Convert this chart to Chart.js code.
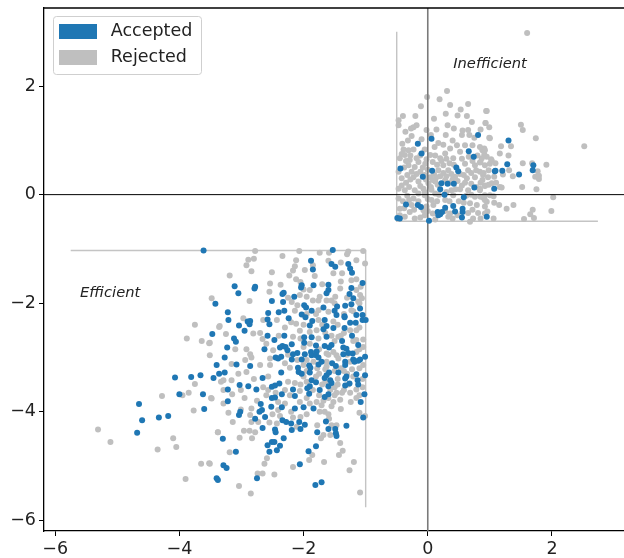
<!DOCTYPE html>
<html><head><meta charset="utf-8">
<style>html,body{margin:0;padding:0;background:#fff}canvas{display:block}</style>
<script src="https://cdn.jsdelivr.net/npm/chart.js@4/dist/chart.umd.js"></script>
</head><body><canvas id="c" width="624" height="558"></canvas>
<script>
const xRange=[-6.18,3.16];
const yRange=[-6.2,3.44];
const xTicks=[-6,-4,-2,0,2];
const yTicks=[-6,-4,-2,0,2];
const seriesNames=['Accepted','Rejected'];
const acceptedEfficient=[[-3.61,-1.03],[-3.42,-2.01],[-3.47,-2.57],[-3.40,-3.14],[-3.36,-3.30],[-4.07,-3.37],[-3.81,-3.36],[-3.66,-3.33],[-3.45,-3.38],[-4.00,-3.68],[-3.62,-3.68],[-4.65,-3.86],[-3.60,-3.95],[-4.60,-4.16],[-4.33,-4.11],[-4.18,-4.08],[-4.68,-4.39],[-3.40,-5.23],[-3.38,-5.26],
[-1.53,-1.02],[-1.88,-1.22],[-1.55,-1.28],[-1.49,-1.33],[-1.28,-1.28],[-1.85,-1.38],[-1.25,-1.36],[-1.22,-1.44],[-3.11,-1.69],[-2.78,-1.70],[-2.79,-1.73],[-1.05,-1.63],[-3.05,-1.82],[-2.03,-1.67],[-2.04,-1.71],[-1.84,-1.67],[-1.60,-1.66],[-1.23,-1.72],[-1.60,-1.76],[-1.63,-1.82],[-2.34,-1.83],[-2.32,-1.81],[-2.15,-1.88],[-1.26,-1.83],[-1.20,-1.91],[-2.51,-1.96],[-2.33,-1.98],[-1.23,-2.02],[-1.99,-2.04],[-1.96,-2.08],[-1.68,-2.08],[-1.46,-2.06],[-1.33,-2.05],[-1.87,-2.14],[-1.50,-2.14],[-1.47,-2.22],[-1.09,-2.10],[-3.22,-2.17],[-2.57,-2.18],[-2.40,-2.17],[-2.31,-2.14],[-2.03,-2.21],[-1.97,-2.26],[-1.34,-2.24],[-1.15,-2.22],[-2.24,-2.28],[-2.58,-2.30],[-3.21,-2.31],[-2.86,-2.33],[-2.90,-2.34],[-2.87,-2.39],[-2.55,-2.39],[-3.04,-2.41],[-1.86,-2.33],[-1.66,-2.31],[-1.05,-2.22],[-1.05,-2.31],[-1.00,-2.31],[-1.34,-2.26],[-1.25,-2.36],[-1.16,-2.36],[-1.90,-2.41],[-1.63,-2.42],[-1.68,-2.48],[-1.52,-2.46],[-1.34,-2.46],[-2.95,-2.51],[-2.58,-2.60],[-2.31,-2.60],[-2.47,-2.68],[-1.99,-2.63],[-1.87,-2.63],[-1.63,-2.62],[-1.22,-2.60],[-3.12,-2.65],[-3.09,-2.71],[-1.38,-2.70],[-2.19,-2.76],[-1.99,-2.73],[-1.80,-2.78],[-1.66,-2.79],[-1.55,-2.77],[-1.59,-2.82],[-2.34,-2.79],[-2.29,-2.81],[-2.38,-2.82],[-1.12,-2.77],[-1.36,-2.82],[-1.31,-2.84],[-2.63,-2.85],[-2.26,-2.87],[-3.23,-2.82],[-1.28,-2.92],[-1.79,-2.89],[-2.10,-2.92],[-1.98,-2.94],[-1.88,-2.90],[-1.87,-2.96],[-2.17,-2.94],[-2.19,-3.04],[-2.03,-3.04],[-1.80,-2.96],[-1.76,-3.00],[-2.45,-3.00],[-2.36,-2.99],[-2.41,-3.02],[-3.27,-3.00],[-1.21,-2.93],[-1.36,-2.94],[-3.08,-3.13],[-2.86,-3.16],[-2.09,-3.19],[-1.91,-3.15],[-1.89,-3.19],[-1.76,-3.13],[-1.71,-3.08],[-1.54,-3.11],[-1.48,-3.16],[-1.33,-3.08],[-1.33,-3.14],[-1.20,-3.04],[-1.18,-3.08],[-1.09,-3.04],[-1.01,-2.99],[-1.12,-3.06],
[-3.27,-3.28],[-2.36,-3.28],[-2.66,-3.38],[-2.08,-3.27],[-2.03,-3.30],[-1.90,-3.28],[-1.63,-3.33],[-1.59,-3.28],[-1.44,-3.28],[-1.31,-3.35],[-1.15,-3.31],[-1.01,-3.33],[-1.66,-3.38],[-1.57,-3.42],[-1.55,-3.47],[-1.87,-3.42],[-1.80,-3.46],[-1.33,-3.39],[-1.13,-3.42],[-1.12,-3.50],[-1.26,-3.48],[-1.33,-3.52],[-3.03,-3.51],[-2.89,-3.53],[-2.76,-3.59],[-3.22,-3.59],[-2.51,-3.54],[-2.46,-3.52],[-2.39,-3.48],[-1.90,-3.53],[-1.94,-3.57],[-1.60,-3.53],[-1.74,-3.60],[-2.17,-3.59],[-2.35,-3.68],[-1.91,-3.67],[-2.14,-3.71],[-1.60,-3.68],[-1.66,-3.73],[-2.51,-3.75],[-2.46,-3.74],[-1.02,-3.68],[-1.08,-3.82],[-3.22,-3.81],[-2.69,-3.86],[-2.52,-3.91],[-2.35,-3.92],[-2.14,-3.94],[-2.00,-3.92],[-1.84,-3.94],[-2.67,-3.97],[-2.71,-4.00],[-3.02,-4.00],[-3.04,-4.06],[-2.62,-4.10],[-2.78,-4.13],[-1.04,-4.11],[-2.34,-4.16],[-2.28,-4.19],[-2.20,-4.22],[-2.07,-4.19],[-1.98,-4.24],[-1.64,-4.18],[-2.66,-4.30],[-2.19,-4.34],[-2.05,-4.32],[-2.46,-4.33],[-2.45,-4.38],[-1.60,-4.32],[-1.49,-4.32],[-1.31,-4.26],[-1.78,-4.38],[-1.48,-4.40],[-1.47,-4.45],[-3.30,-4.50],[-2.32,-4.49],[-2.51,-4.56],[-2.47,-4.56],[-2.58,-4.62],[-2.38,-4.63],[-1.80,-4.64],[-2.43,-4.71],[-2.55,-4.74],[-3.09,-4.74],[-1.92,-4.73],[-2.06,-4.97],[-3.29,-4.99],[-3.24,-5.04],[-2.75,-5.23],[-1.81,-5.35],[-1.71,-5.30]];
const acceptedInefficient=[[0.81,1.10],[0.06,1.03],[-0.16,0.94],[-0.10,0.76],[0.66,0.80],[0.74,0.70],[-0.44,0.48],[0.46,0.50],[0.49,0.43],[0.07,0.44],[1.08,0.43],[-0.08,0.33],[0.22,0.21],[0.32,0.20],[0.42,0.20],[0.75,0.13],[0.20,0.10],[0.27,0.00],[1.07,0.11],[0.58,-0.05],[-0.35,-0.18],[-0.16,-0.19],[-0.11,-0.23],[0.41,-0.21],[0.28,-0.24],[0.44,-0.31],[0.56,-0.26],[0.56,-0.32],[0.16,-0.32],[0.20,-0.36],[0.23,-0.32],[0.17,-0.38],[0.55,-0.42],[0.95,-0.41],[-0.49,-0.43],[-0.45,-0.44],[0.02,-0.48],[1.30,1.00],[1.28,0.56],[1.09,0.44],[1.20,0.44],[1.70,0.54],[1.69,0.45],[1.47,0.37]];
const rejectedEfficient=[[-3.75,-2.40],[-3.36,-2.44],[-3.88,-2.65],[-3.64,-2.70],[-3.52,-2.74],[-3.51,-2.96],[-3.75,-3.49],[-3.33,-3.45],[-4.28,-3.71],[-3.95,-3.70],[-3.85,-3.65],[-3.49,-3.75],[-3.77,-3.98],[-5.31,-4.33],[-5.11,-4.56],[-4.10,-4.49],[-4.35,-4.70],[-4.05,-4.65],[-3.38,-4.38],[-3.65,-4.96],[-3.52,-4.95],[-3.90,-5.24],
[-2.78,-1.04],[-2.07,-1.04],[-2.34,-1.13],[-1.74,-1.07],[-1.59,-1.07],[-1.28,-1.05],[-1.04,-1.04],[-1.30,-1.10],[-2.89,-1.20],[-2.80,-1.18],[-2.12,-1.21],[-1.60,-1.22],[-1.15,-1.21],[-1.01,-1.27],[-2.92,-1.30],[-2.14,-1.32],[-2.84,-1.41],[-2.51,-1.43],[-2.17,-1.40],[-1.98,-1.39],[-3.19,-1.49],[-2.23,-1.49],[-1.82,-1.50],[-1.38,-1.45],[-1.52,-1.45],[-2.12,-1.56],[-1.15,-1.56],[-1.23,-1.58],[-2.54,-1.64],[-2.37,-1.66],[-2.05,-1.61],[-2.55,-1.79],[-1.90,-1.76],[-1.41,-1.73],[-1.15,-1.76],[-1.09,-1.85],[-2.87,-1.96],[-3.48,-1.91],[-1.95,-1.88],[-1.74,-1.88],[-1.76,-1.95],[-2.06,-1.85],[-2.19,-1.98],[-2.10,-2.04],[-1.49,-1.88],[-1.63,-1.95],[-1.12,-1.97],[-1.06,-1.91],[-1.23,-2.13],[-1.76,-2.13],[-1.60,-2.16],[-2.14,-2.14],[-2.43,-2.31],[-2.65,-2.31],[-2.97,-2.28],[-3.35,-2.42],[-2.12,-2.38],[-1.52,-2.34],[-1.76,-2.31],[-3.25,-2.57],[-2.81,-2.56],[-2.06,-2.51],[-1.79,-2.50],[-1.44,-2.62],[-1.15,-2.50],[-1.90,-2.53],[-3.51,-2.73],[-2.66,-2.66],[-2.17,-2.62],[-1.76,-2.65],[-1.04,-2.67],[-1.15,-2.68],[-2.92,-2.85],[-3.10,-2.85],[-2.49,-2.87],[-2.86,-2.94],[-2.84,-3.00],[-2.54,-3.02],[-2.00,-2.81],[-1.52,-2.90],[-1.15,-2.90],[-1.04,-2.81],[-1.47,-2.96],[-3.16,-3.12],[-2.94,-3.05],[-2.70,-3.14],[-2.54,-3.14],[-2.30,-3.11],[-1.63,-3.08],[-1.25,-3.08],[-1.84,-3.08],[-2.00,-3.14],[-1.04,-3.14],[-1.63,-3.17],[-1.44,-3.02],[-2.22,-3.19],[-1.63,-2.93],
[-3.29,-3.42],[-3.16,-3.42],[-3.29,-3.60],[-3.15,-3.68],[-3.48,-3.76],[-3.29,-3.85],[-3.01,-3.60],[-2.92,-3.27],[-2.57,-3.35],[-2.14,-3.47],[-2.57,-3.60],[-2.60,-3.70],[-2.22,-3.70],[-2.06,-3.62],[-2.30,-3.85],[-2.41,-3.82],[-2.06,-3.82],[-1.79,-3.82],[-1.71,-3.88],[-1.41,-3.78],[-1.52,-3.82],[-1.24,-3.82],[-1.38,-3.65],[-1.47,-3.65],[-1.15,-3.59],[-2.84,-3.94],[-3.01,-3.96],[-2.41,-3.97],[-1.66,-4.00],[-1.74,-4.00],[-1.10,-4.02],[-1.01,-4.08],[-3.21,-4.02],[-2.86,-4.06],[-2.38,-4.08],[-2.17,-4.11],[-3.14,-4.19],[-2.84,-4.19],[-2.73,-4.19],[-1.59,-4.13],[-2.43,-4.22],[-2.11,-4.28],[-1.78,-4.25],[-1.55,-4.25],[-1.47,-4.25],[-3.38,-4.38],[-2.96,-4.35],[-2.87,-4.35],[-2.78,-4.38],[-3.03,-4.48],[-2.83,-4.49],[-1.57,-4.43],[-1.68,-4.43],[-1.72,-4.49],[-1.41,-4.58],[-1.37,-4.72],[-1.43,-4.80],[-3.19,-4.75],[-2.59,-4.86],[-2.63,-4.96],[-1.86,-4.80],[-1.91,-4.89],[-1.67,-4.93],[-1.19,-4.93],[-1.26,-5.08],[-2.17,-5.02],[-3.51,-4.96],[-2.74,-5.14],[-2.66,-5.14],[-2.47,-5.16],[-3.04,-5.37],[-2.85,-5.51],[-1.09,-5.49],[-1.57,-3.60],
[-1.75,-3.30],[-1.45,-3.40],[-1.28,-3.50],[-1.70,-3.50],[-1.50,-3.55],[-1.95,-3.45],[-2.00,-3.35],[-1.68,-3.80],[-1.85,-3.60],[-1.40,-3.20],[-1.30,-3.30],[-1.22,-3.22],[-1.10,-3.20],[-1.05,-3.55],[-1.10,-3.70],[-1.35,-2.55],[-1.20,-2.70],[-1.50,-2.70],[-1.70,-2.40],[-1.45,-2.40],[-1.10,-2.45],[-1.20,-2.15],[-1.35,-2.20],[-1.50,-2.00],[-1.10,-2.00],[-1.80,-2.20],[-2.00,-2.40],[-1.95,-2.20],
[-2.25,-1.9],[-2.0,-1.75],[-1.85,-1.95],[-1.55,-1.95],[-1.3,-1.9],[-1.08,-1.7],[-1.4,-1.6],[-1.7,-1.65],[-1.85,-1.3],[-1.4,-1.25],[-2.3,-2.45],[-2.2,-2.35],[-2.05,-2.65],[-1.65,-2.55],[-1.55,-2.6],[-1.25,-2.5],[-1.9,-2.75],[-1.75,-2.85],[-1.6,-2.95],[-1.4,-2.6],[-1.3,-2.95],[-1.1,-2.85],[-2.1,-3.05],[-1.95,-3.05],[-2.25,-2.95],[-2.6,-2.75],[-2.7,-2.55],[-2.4,-2.6],[-1.95,-3.25],[-1.78,-3.2],[-1.65,-3.22],[-1.5,-3.25],[-1.35,-3.25],[-1.2,-3.35],[-1.05,-3.4],[-1.8,-3.35],[-1.65,-3.45],[-1.45,-3.5],[-1.35,-3.6],[-1.25,-3.65],[-1.15,-3.75],[-1.6,-3.75],[-1.5,-3.7],[-1.75,-3.7],[-1.95,-3.75],[-2.05,-3.5],[-2.25,-3.45],[-2.3,-3.6],[-2.45,-3.65],[-2.65,-3.55],[-2.8,-3.4],[-3.05,-3.3],[-1.9,-3.85],[-1.55,-3.9],[-1.4,-3.95],[-1.6,-4.05],[-2.5,-4.05],[-2.55,-4.2],[-2.95,-3.75],[-2.75,-3.8],[-2.2,-4.0],[-1.95,-4.05],[-2.05,-4.1]];
const rejectedInefficient=[[1.60,2.98],[0.94,1.54],[0.93,1.32],[0.99,1.24],[1.50,1.29],[1.53,1.19],[1.00,1.04],[1.74,1.04],[2.52,0.89],[1.18,0.89],[1.34,0.89],[0.91,0.85],[0.88,0.82],[1.16,0.76],[0.91,0.74],[1.30,0.72],[1.02,0.65],[0.84,0.59],[1.00,0.57],[1.09,0.58],[1.53,0.58],[1.68,0.58],[1.91,0.55],[1.31,0.45],[1.77,0.43],[1.07,0.33],[0.89,0.36],[1.21,0.37],[1.37,0.34],[1.73,0.33],[1.79,0.35],[1.79,0.29],[0.88,0.27],[1.03,0.21],[0.92,0.16],[1.16,0.14],[1.19,0.13],[0.84,0.11],[1.52,0.14],[1.75,0.10],[0.92,-0.01],[1.00,-0.01],[1.06,-0.03],[2.02,-0.05],[0.90,-0.06],[0.95,-0.13],[1.07,-0.15],[1.15,-0.19],[1.38,-0.19],[1.27,-0.26],[1.69,-0.28],[1.65,-0.36],[1.99,-0.30],[0.96,-0.31],[0.92,-0.35],[1.06,-0.44],[1.55,-0.45],[1.71,-0.43],
[-0.01,1.80],[0.31,1.91],[0.19,1.76],[-0.11,1.63],[0.36,1.65],[0.65,1.67],[0.53,1.57],[0.29,1.49],[0.48,1.46],[0.63,1.45],[0.95,1.54],[-0.40,1.45],[-0.20,1.45],[-0.47,1.37],[-0.47,1.28],[0.71,1.34],[0.93,1.32],[0.32,1.28],[-0.18,1.28],[-0.23,1.24],[-0.27,1.22],[-0.36,1.16],[-0.02,1.19],[0.14,1.20],[0.56,1.18],[0.65,1.19],[0.29,1.10],[0.55,1.10],[0.67,1.10],[-0.26,1.08],[0.99,1.05],[-0.41,0.94],[0.17,0.95],[0.11,0.88],[0.47,0.91],[0.60,0.91],[0.72,0.91],[0.84,0.88],[0.92,0.82],[-0.39,0.83],[-0.31,0.82],[-0.23,0.83],[-0.05,0.83],[0.36,0.85],[0.28,0.76],[0.52,0.79],[0.04,0.73],[-0.37,0.73],[-0.45,0.67],[-0.29,0.64],[-0.18,0.67],[0.20,0.67],[0.41,0.67],[0.87,0.67],[1.03,0.63],[-0.31,0.54],[-0.21,0.51],[-0.04,0.57],[0.25,0.54],[0.60,0.57],[0.76,0.54],[0.92,0.54],[-0.47,0.42],[-0.26,0.42],[0.17,0.45],[0.33,0.45],[0.65,0.45],[0.84,0.42],[-0.42,0.30],[-0.23,0.32],[0.04,0.32],[0.20,0.34],[0.44,0.33],[0.63,0.30],[0.76,0.32],[0.97,0.32],[-0.15,0.24],[0.01,0.21],[0.12,0.24],[0.55,0.17],[0.92,0.17],[-0.37,0.08],[-0.47,0.11],[-0.21,0.08],[-0.07,0.11],[0.06,0.09],[0.38,0.08],[0.65,0.08],[0.84,0.08],[-0.42,0.17],[-0.05,-0.01],[0.12,0.02],[0.41,-0.01],[0.76,-0.04],[-0.47,-0.07],[-0.23,-0.07],[0.06,-0.10],[0.28,-0.10],[0.92,-0.10],[-0.45,-0.26],[-0.26,-0.19],[-0.02,-0.22],[0.09,-0.19],[0.68,-0.16],[0.79,-0.19],[0.92,-0.22],[-0.29,-0.32],[-0.07,-0.29],[0.36,-0.35],[0.65,-0.34],[0.81,-0.34],[-0.37,-0.41],[-0.21,-0.44],[-0.05,-0.38],[0.33,-0.41],[0.73,-0.44],[0.12,-0.46],[0.68,-0.50],
[-0.42,0.75],[-0.35,0.62],[-0.28,0.72],[-0.12,0.72],[-0.15,0.6],[-0.08,0.5],[-0.02,0.65],[0.08,0.6],[0.12,0.72],[0.15,0.55],[0.22,0.62],[0.3,0.66],[0.35,0.58],[0.42,0.55],[0.55,0.66],[0.66,0.7],[0.72,0.62],[0.8,0.72],[0.85,0.6],[0.95,0.7],[0.98,0.45],[-0.38,0.5],[-0.33,0.36],[-0.28,0.28],[-0.18,0.38],[-0.12,0.42],[-0.05,0.36],[0.0,0.46],[0.1,0.38],[0.14,0.32],[0.25,0.4],[0.3,0.34],[0.38,0.38],[0.52,0.38],[0.58,0.36],[0.7,0.4],[0.78,0.45],[0.9,0.4],[-0.35,0.22],[-0.3,0.14],[-0.12,0.16],[-0.03,0.28],[0.05,0.14],[0.08,0.27],[0.16,0.18],[0.28,0.27],[0.35,0.22],[0.4,0.28],[0.48,0.25],[0.52,0.1],[0.6,0.22],[0.7,0.2],[0.78,0.14],[0.85,0.22],[0.98,0.18],[1.1,0.22],[-0.33,-0.02],[-0.15,0.02],[-0.05,0.05],[0.0,-0.08],[0.18,0.0],[0.3,0.05],[0.45,0.1],[0.62,-0.02],[0.7,0.0],[0.85,-0.04],[-0.4,-0.12],[-0.3,-0.1],[-0.15,-0.12],[0.15,-0.12],[0.35,-0.12],[0.5,-0.12],[0.58,-0.15],[-0.38,-0.25],[-0.22,-0.28],[0.0,-0.3],[0.08,-0.35],[0.28,-0.3],[0.48,-0.38],[0.72,-0.28],[-0.45,-0.38],[-0.12,-0.42],[0.4,-0.44],[0.85,-0.44],[0.25,0.92],[0.4,1.0],[0.05,1.1],[-0.1,1.02],[-0.32,1.0],[0.75,1.05],[0.85,1.2],[0.42,1.22],[0.1,1.4]];
const efficientFrontier=[[-5.75,-1.03],[-1,-1.03],[-1,-5.76]];
const inefficientFrontier=[[-0.5,3.0],[-0.5,-0.49],[2.74,-0.49]];
const zeroHorizontal=[[xRange[0],0],[xRange[1],0]];
const zeroVertical=[[0,yRange[0]],[0,yRange[1]]];
const regionNotes=[{text:'Inefficient',x:0.41,y:2.41},{text:'Efficient',x:-5.6,y:-1.82}];

const FONT='"DejaVu Sans"';
const BLUE='#1f77b4', GREY='#bfbfbf';
const toPts=a=>a.map(([x,y])=>({x,y}));
const minus=v=>v<0?'\u2212'+Math.abs(v):String(v);
function swatch(color){
  const c=document.createElement('canvas');c.width=43;c.height=15;
  const g=c.getContext('2d');g.fillStyle=color;g.fillRect(0,0,38,15);return c;
}
const frame={
  id:'frame',
  beforeLayout(ch){
    const l=ch.legend;
    if(l&&!l._patched){
      const f=l.fit;
      l.fit=function(){f.call(this);this.width=0;};
      l._patched=true;
    }
  },
  afterLayout(ch){
    const l=ch.legend;
    l.left=50.5;l.right=202;l.top=14.25;l.bottom=78;l.width=151.5;l.height=63.75;
  },
  beforeDraw(ch){
    const g=ch.ctx;g.save();
    g.fillStyle='#fff';g.strokeStyle='#cfcfcf';g.lineWidth=1;
    g.beginPath();g.roundRect(53.5,16.5,148,58,3);g.fill();g.stroke();
    g.restore();
  },
  afterDraw(ch){
    const g=ch.ctx,a=ch.chartArea;
    g.save();
    g.strokeStyle='#000';g.lineWidth=1.3;
    g.beginPath();g.moveTo(a.left-0.6,a.top);g.lineTo(a.right,a.top);g.stroke();
    g.font='italic 14.7px '+FONT;g.fillStyle='#222';g.textBaseline='middle';g.textAlign='left';
    regionNotes.forEach(n=>g.fillText(n.text,ch.scales.x.getPixelForValue(n.x),ch.scales.y.getPixelForValue(n.y)));
    g.restore();
  }
};
const lineDs=(d,color,w,order)=>({data:toPts(d),showLine:true,pointRadius:0,borderColor:color,borderWidth:w,order,fill:false});
const ptDs=(label,d,color,order)=>({label,data:toPts(d),showLine:false,pointRadius:3,pointBorderWidth:0,backgroundColor:color,pointBackgroundColor:color,borderColor:color,order});
new Chart(document.getElementById('c'),{
  type:'scatter',
  data:{datasets:[
    ptDs(seriesNames[0],acceptedEfficient.concat(acceptedInefficient),BLUE,1),
    ptDs(seriesNames[1],rejectedEfficient.concat(rejectedInefficient),GREY,4),
    lineDs(zeroHorizontal,'#000',1,2),
    lineDs(zeroVertical,'#7a7a7a',1.6,3),
    lineDs(efficientFrontier,'#c4c4c4',1.4,5),
    lineDs(inefficientFrontier,'#c4c4c4',1.4,5)
  ]},
  options:{
    responsive:false,animation:false,events:[],
    layout:{padding:{top:8,right:0,left:0,bottom:0},autoPadding:false},
    plugins:{
      tooltip:{enabled:false},title:{display:false},
      legend:{
        display:true,position:'left',align:'start',
        labels:{
          font:{family:FONT,size:17.5},color:'#222',padding:8.5,
          usePointStyle:true,pointStyleWidth:43,boxHeight:15,
          generateLabels:()=>[
            {text:seriesNames[0],pointStyle:swatch(BLUE),fillStyle:BLUE,strokeStyle:BLUE,lineWidth:0,datasetIndex:0,fontColor:'#222'},
            {text:seriesNames[1],pointStyle:swatch(GREY),fillStyle:GREY,strokeStyle:GREY,lineWidth:0,datasetIndex:1,fontColor:'#222'}
          ]
        }
      }
    },
    scales:{
      x:{type:'linear',min:xRange[0],max:xRange[1],
        afterBuildTicks:s=>{s.ticks=xTicks.map(value=>({value}))},
        afterFit:s=>{s.height=27;s.paddingLeft=0;s.paddingRight=0;},
        grid:{display:true,drawOnChartArea:false,drawTicks:true,tickLength:5,tickColor:'#000',tickWidth:1},
        border:{display:true,color:'#000',width:1.3},
        ticks:{font:{family:FONT,size:17.5},color:'#222',padding:3,maxRotation:0,autoSkip:false,callback:minus}
      },
      y:{type:'linear',min:yRange[0],max:yRange[1],
        afterBuildTicks:s=>{s.ticks=yTicks.map(value=>({value}))},
        afterFit:s=>{s.width=44;s.paddingTop=0;s.paddingBottom=0;},
        grid:{display:true,drawOnChartArea:false,drawTicks:true,tickLength:5,tickColor:'#000',tickWidth:1},
        border:{display:true,color:'#000',width:1.3},
        ticks:{font:{family:FONT,size:17.5},color:'#222',padding:3,autoSkip:false,callback:minus}
      }
    }
  },
  plugins:[frame]
});
</script></body></html>
